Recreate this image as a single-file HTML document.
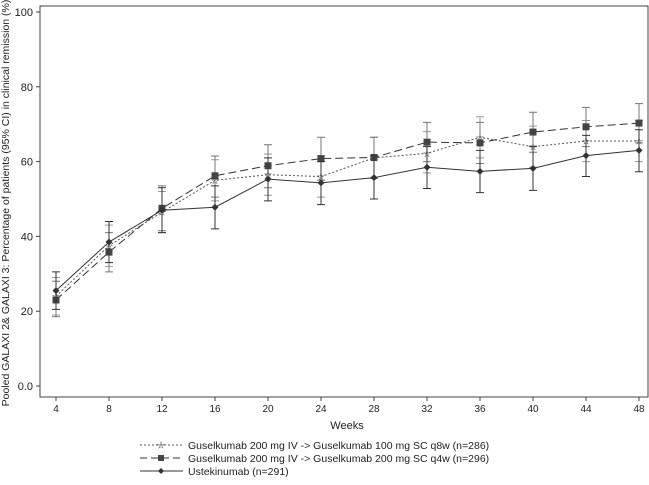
<!DOCTYPE html>
<html><head><meta charset="utf-8"><style>
body{margin:0;background:#fff;font-family:"Liberation Sans",sans-serif}
svg text{font-family:"Liberation Sans",sans-serif;fill:#222}
</style></head><body>
<svg id="c" width="649" height="480">
<rect x="40" y="6" width="608" height="391" fill="none" stroke="#444" stroke-width="1"/>
<g id="axes"></g><g id="series"></g>
<text x="6" y="200" transform="rotate(-90 9 200)" font-size="10.5" text-anchor="middle">Pooled GALAXI 2&amp; GALAXI 3: Percentage of patients (95% CI) in clinical remission (%)</text>
<text x="347" y="429" font-size="11" text-anchor="middle">Weeks</text>
<g id="legend" font-size="10.5">
<g><line x1="140" y1="445" x2="183" y2="445" stroke="#555" stroke-dasharray="2,2"/><text x="161" y="448.5" font-size="10" text-anchor="middle" fill="#888">☆</text><text x="188" y="449">Guselkumab 200 mg IV -&gt; Guselkumab 100 mg SC q8w (n=286)</text></g>
<g><line x1="140" y1="458" x2="183" y2="458" stroke="#333" stroke-dasharray="7,4"/><rect x="158" y="455" width="6" height="6" fill="#444"/><text x="188" y="462">Guselkumab 200 mg IV -&gt; Guselkumab 200 mg SC q4w (n=296)</text></g>
<g><line x1="140" y1="471" x2="183" y2="471" stroke="#333"/><path d="M161 468 L164 471 L161 474 L158 471Z" fill="#333"/><text x="188" y="475">Ustekinumab (n=291)</text></g>
</g>
</svg>
<script>
const weeks=[4,8,12,16,20,24,28,32,36,40,44,48];
const yTicks=[0,20,40,60,80,100];
const yTickLabels=["0.0","20","40","60","80","100"];
const q8wMean=[24,37.5,46.5,55,56.5,56,61,62.2,66.5,64,65.5,65.5];
const q8wLow=[19,32,41,49.5,51,50.5,55.5,57,61,58.5,60,60];
const q8wHigh=[29,43,52,60.5,62,61.5,66.5,68,72,69.5,71,71];
const q4wMean=[23,35.8,47.5,56.2,58.9,60.8,61.1,65.2,65,67.9,69.3,70.3];
const q4wLow=[18.5,30.5,41.5,50.5,53,55,55.5,60,59.5,62.5,64,65];
const q4wHigh=[28,41,53.5,61.5,64.5,66.5,66.5,70.5,70.5,73.2,74.5,75.5];
const ustMean=[25.5,38.5,47,47.8,55.3,54.3,55.7,58.5,57.4,58.2,61.6,63];
const ustLow=[20.5,33,41,42,49.5,48.5,50,52.8,51.7,52.3,56,57.3];
const ustHigh=[30.5,44,53,53.5,61,60,61.5,64,63,64,67,68.5];
const X=w=>56+(w-4)*(639-56)/44, Y=v=>386-v*3.74;
const NS="http://www.w3.org/2000/svg";
function mk(t,a,p){const e=document.createElementNS(NS,t);for(const k in a)e.setAttribute(k,a[k]);p.appendChild(e);return e;}
const ax=document.getElementById('axes');
yTicks.forEach((v,i)=>{
 const l=mk('line',{x1:36,x2:40,y1:Y(v),y2:Y(v),stroke:'#444'},ax);
 
 
 const t=mk('text',{x:33,y:Y(v)+4,'font-size':11,'text-anchor':'end'},ax);t.textContent=yTickLabels[i];
 
 
});
weeks.forEach(w=>{
 const l=mk('line',{x1:X(w),x2:X(w),y1:397,y2:401,stroke:'#444'},ax);
 
 
 const t=mk('text',{x:X(w),y:412,'font-size':10,'text-anchor':'middle'},ax);t.textContent=w;
 
 
});
const sg=document.getElementById('series');
function series(name,mean,low,high,dash,col,marker,ebCol){
 const g=mk('g',{},sg);
 
 
 weeks.forEach((w,i)=>{
  const x=X(w);
  const e=mk('path',{d:`M${x-4} ${Y(low[i])}H${x+4}M${x} ${Y(low[i])}V${Y(high[i])}M${x-4} ${Y(high[i])}H${x+4}`,stroke:ebCol,fill:'none','stroke-width':1},g);
  
  
 });
 const ln=mk('polyline',{points:weeks.map((w,i)=>X(w)+','+Y(mean[i])).join(' '),fill:'none',stroke:col,'stroke-width':1,'stroke-dasharray':dash},g);
 
 
 weeks.forEach((w,i)=>{
  const x=X(w),y=Y(mean[i]);let m;
  if(marker==='sq')m=mk('rect',{x:x-3.5,y:y-3.5,width:7,height:7,fill:'#444'},g);
  else if(marker==='dia')m=mk('path',{d:`M${x} ${y-3.5}L${x+3.5} ${y}L${x} ${y+3.5}L${x-3.5} ${y}Z`,fill:'#333'},g);
  else {m=mk('text',{x:x,y:y+3.5,'font-size':10,'text-anchor':'middle',fill:'#888'},g);m.textContent='☆';}
  
  
 });
}
series('series-q8w',q8wMean,q8wLow,q8wHigh,'2,2','#555','star','#999');
series('series-q4w',q4wMean,q4wLow,q4wHigh,'8,4','#333','sq','#777');
series('series-ustekinumab',ustMean,ustLow,ustHigh,'','#333','dia','#333');
</script>
</body></html>
